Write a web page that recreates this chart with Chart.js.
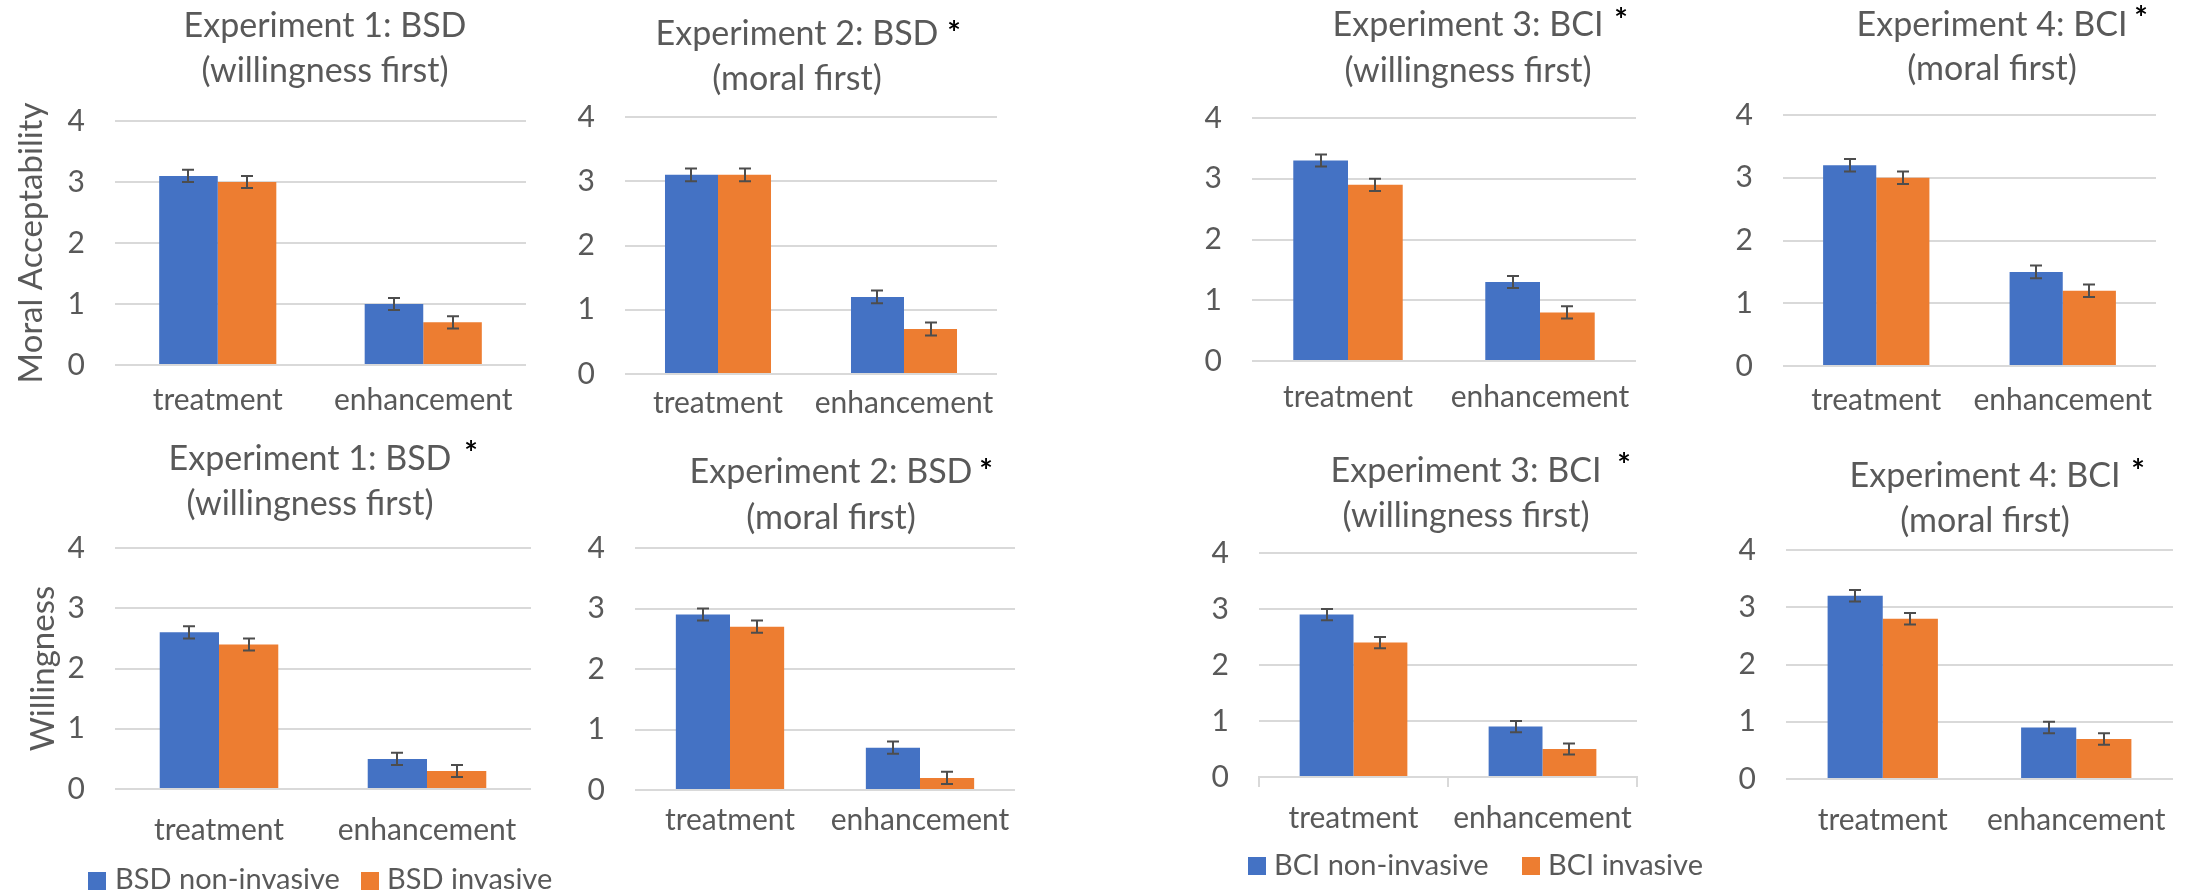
<!DOCTYPE html>
<html><head><meta charset="utf-8">
<script src="https://cdn.jsdelivr.net/npm/chart.js@4.4.1/dist/chart.umd.min.js"></script>
<style>
html,body{margin:0;padding:0;background:#fff;width:2206px;height:893px;overflow:hidden;position:relative;}
canvas{position:absolute;}
</style></head><body>
<script>
// ---------- DATA ----------
const categories = ["treatment", "enhancement"];
const yTickValues = [0, 1, 2, 3, 4];
const bsdSeries = ["BSD non-invasive", "BSD invasive"];
const bciSeries = ["BCI non-invasive", "BCI invasive"];
// Moral acceptability (top row)
const moral_e1_non = [3.1, 1.0], moral_e1_inv = [3.0, 0.7];
const moral_e2_non = [3.1, 1.2], moral_e2_inv = [3.1, 0.7];
const moral_e3_non = [3.3, 1.3], moral_e3_inv = [2.9, 0.8];
const moral_e4_non = [3.2, 1.5], moral_e4_inv = [3.0, 1.2];
// Willingness (bottom row)
const will_e1_non = [2.6, 0.5], will_e1_inv = [2.4, 0.3];
const will_e2_non = [2.9, 0.7], will_e2_inv = [2.7, 0.2];
const will_e3_non = [2.9, 0.9], will_e3_inv = [2.4, 0.5];
const will_e4_non = [3.2, 0.9], will_e4_inv = [2.8, 0.7];
// error bar half-widths
const errNon = [0.1, 0.1], errInv = [0.1, 0.1];
const titleE1 = ["Experiment 1: BSD", "(willingness first)"];
const titleE2 = ["Experiment 2: BSD", "(moral first)"];
const titleE3 = ["Experiment 3: BCI", "(willingness first)"];
const titleE4 = ["Experiment 4: BCI", "(moral first)"];
const yTitleMoral = "Moral Acceptability";
const yTitleWill = "Willingness";

// ---------- LAYOUT / STYLE ----------
const FONT = "Lato";
const TXT = "#595959";
const GRID = "#D9D9D9";
const BLUE = "#4472C4", ORANGE = "#ED7D31";

const panels = [
  {box:[0,0,555,430], plot:[115,121,526,365], non:moral_e1_non, inv:moral_e1_inv, series:bsdSeries, title:titleE1, tx:325, tb:[37,82], star:null, yTitle:yTitleMoral, yPad:12, xPad:17},
  {box:[555,0,1130,430], plot:[625,117,997,374], non:moral_e2_non, inv:moral_e2_inv, series:bsdSeries, title:titleE2, tx:797, tb:[45,90], star:[954,25], xPad:11},
  {box:[1130,0,1690,430], plot:[1252,118,1636,361], non:moral_e3_non, inv:moral_e3_inv, series:bciSeries, title:titleE3, tx:1468, tb:[36,82], star:[1621,12], xPad:18},
  {box:[1690,0,2206,430], plot:[1783,115,2156,366], non:moral_e4_non, inv:moral_e4_inv, series:bciSeries, title:titleE4, tx:1992, tb:[36,80], star:[2141,10], xPad:16},
  {box:[0,430,560,893], plot:[115,548,531,789], non:will_e1_non, inv:will_e1_inv, series:bsdSeries, title:titleE1, tx:310, tb:[470,515], star:[471,445], yTitle:yTitleWill, yPad:24, xPad:23,
    legend:{sq:[88,361], tx:[115,387], top:872, base:889}},
  {box:[560,430,1130,893], plot:[635,548,1015,790], non:will_e2_non, inv:will_e2_inv, series:bsdSeries, title:titleE2, tx:831, tb:[483,529], star:[986,463], xPad:12},
  {box:[1130,430,1720,893], plot:[1259,553,1637,777], non:will_e3_non, inv:will_e3_inv, series:bciSeries, title:titleE3, tx:1466, tb:[482,527], star:[1624,457], xPad:13, axisTicks:true,
    legend:{sq:[1248,1522], tx:[1274,1548], top:857, base:875}},
  {box:[1720,430,2206,893], plot:[1786,550,2173,779], non:will_e4_non, inv:will_e4_inv, series:bciSeries, title:titleE4, tx:1985, tb:[487,532], star:[2138,463], xPad:23}
];

const errorBars = {
  id: "errorBars",
  afterDatasetsDraw(chart) {
    const ctx = chart.ctx, ys = chart.scales.y;
    ctx.save();
    ctx.strokeStyle = "#4D4D4D";
    ctx.lineWidth = 2;
    chart.data.datasets.forEach((ds, i) => {
      const meta = chart.getDatasetMeta(i);
      meta.data.forEach((bar, j) => {
        const v = ds.data[j], e = ds.errors[j];
        const x = Math.round(bar.x);
        const y1 = ys.getPixelForValue(v + e), y2 = ys.getPixelForValue(v - e);
        ctx.beginPath();
        ctx.moveTo(x, y1); ctx.lineTo(x, y2);
        ctx.moveTo(x - 6, y1); ctx.lineTo(x + 6, y1);
        ctx.moveTo(x - 6, y2); ctx.lineTo(x + 6, y2);
        ctx.stroke();
      });
    });
    ctx.restore();
  }
};

const panelText = {
  id: "panelText",
  afterDraw(chart, args, o) {
    const ctx = chart.ctx;
    ctx.save();
    ctx.fillStyle = TXT;
    ctx.textAlign = "center";
    ctx.textBaseline = "alphabetic";
    ctx.font = `34px ${FONT}`;
    o.lines.forEach((t, i) => ctx.fillText(t, o.tx, o.tb[i]));
    if (o.star) {
      ctx.fillStyle = "#000";
      ctx.font = `bold 32px ${FONT}`;
      const m = ctx.measureText("*");
      const by = o.star[1] + (m.actualBoundingBoxAscent - m.actualBoundingBoxDescent) / 2;
      ctx.fillText("*", o.star[0], by);
    }
    if (o.legend) {
      const L = o.legend;
      ctx.textAlign = "left";
      ctx.font = `29px ${FONT}`;
      chart.data.datasets.forEach((ds, i) => {
        ctx.fillStyle = ds.backgroundColor;
        ctx.fillRect(L.sq[i], L.top, 18, 18);
        ctx.fillStyle = TXT;
        ctx.fillText(ds.label, L.tx[i], L.base);
      });
    }
    ctx.restore();
  }
};

panels.forEach((p) => {
  const [bx0, by0, bx1, by1] = p.box;
  const W = bx1 - bx0, H = by1 - by0;
  const [pl, pt, pr, pb] = p.plot;
  const cv = document.createElement("canvas");
  cv.width = W; cv.height = H;
  cv.style.left = bx0 + "px"; cv.style.top = by0 + "px";
  cv.style.width = W + "px"; cv.style.height = H + "px";
  document.body.appendChild(cv);

  const local = (pt2) => pt2 ? [pt2[0] - bx0, pt2[1] - by0] : null;
  const legend = p.legend ? {
    sq: p.legend.sq.map(x => x - bx0), tx: p.legend.tx.map(x => x - bx0),
    top: p.legend.top - by0, base: p.legend.base - by0
  } : null;

  const yLeftW = pl - bx0;
  const xH = by1 - pb;

  new Chart(cv, {
    type: "bar",
    data: {
      labels: categories,
      datasets: [
        {label: p.series[0], data: p.non, errors: errNon, backgroundColor: BLUE, borderWidth: 0},
        {label: p.series[1], data: p.inv, errors: errInv, backgroundColor: ORANGE, borderWidth: 0}
      ]
    },
    options: {
      responsive: false,
      devicePixelRatio: 1,
      animation: false,
      events: [],
      categoryPercentage: 0.57,
      barPercentage: 1.0,
      layout: {padding: {left: 0, top: pt - by0, right: bx1 - pr, bottom: 0}},
      plugins: {
        legend: {display: false},
        title: {display: false},
        tooltip: {enabled: false},
        panelText: {
          lines: p.title, tx: p.tx - bx0, tb: p.tb.map(y => y - by0),
          star: local(p.star), legend: legend
        }
      },
      scales: {
        x: {
          type: "category",
          grid: p.axisTicks
            ? {display: true, drawOnChartArea: false, drawTicks: true, tickLength: 10, color: GRID, lineWidth: 2, offset: true}
            : {display: false, drawTicks: false},
          border: p.axisTicks ? {display: true, color: GRID, width: 2} : {display: false},
          ticks: {color: TXT, font: {family: FONT, size: 30}, padding: p.xPad, maxRotation: 0, autoSkip: false},
          afterFit: (s) => { s.height = xH; }
        },
        y: {
          min: 0, max: 4,
          afterBuildTicks: (s) => { s.ticks = yTickValues.map(v => ({value: v})); },
          ticks: {color: TXT, font: {family: FONT, size: 30}, padding: 30},
          grid: {color: GRID, lineWidth: 2, drawTicks: false},
          border: {display: false},
          title: p.yTitle ? {display: true, text: p.yTitle, color: TXT, font: {family: FONT, size: 33}, padding: {top: p.yPad, bottom: 0}} : {display: false},
          afterFit: (s) => { s.width = yLeftW; }
        }
      }
    },
    plugins: [errorBars, panelText]
  });
});
</script>
</body></html>
